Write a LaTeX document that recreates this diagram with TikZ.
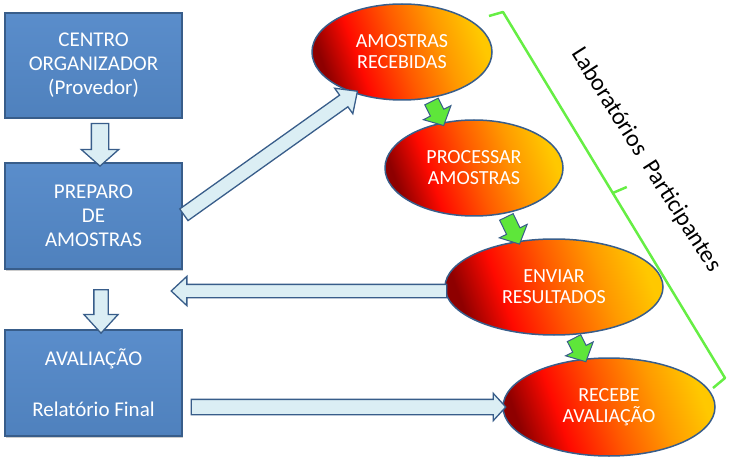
\documentclass[tikz,border=0pt]{standalone}
\usepackage{fontspec}
\setmainfont{Carlito}
\usetikzlibrary{shapes.geometric,shapes.arrows,calc,shadows}
\definecolor{boxfill}{HTML}{4F81BD}
\definecolor{boxtop}{HTML}{5A8DCB}
\definecolor{boxline}{HTML}{385D8A}
\definecolor{palefill}{HTML}{DBEEF4}
\definecolor{labdark}{HTML}{8E0000}
\definecolor{labred}{HTML}{FF0A00}
\definecolor{labmid}{HTML}{FF5A00}
\definecolor{laborange}{HTML}{FF9A00}
\definecolor{labyellow}{HTML}{FFC800}
\definecolor{greenfill}{HTML}{5EE63A}
\definecolor{greenline}{HTML}{66EE44}
\pgfdeclarehorizontalshading{labshade}{100bp}{color(0bp)=(labdark); color(25bp)=(labdark);
  color(36bp)=(labred); color(50bp)=(labmid); color(63bp)=(laborange); color(75bp)=(labyellow);
  color(100bp)=(labyellow)}
\tikzset{
  box/.style={rectangle, draw=boxline, line width=1.5pt, top color=boxtop, bottom color=boxfill,
    minimum width=177pt, minimum height=105pt, text=white, align=center,
    font=\fontsize{21}{24}\selectfont, drop shadow={shadow xshift=1pt, shadow yshift=-1.5pt, opacity=.4}},
  lab/.style={ellipse, draw=boxline, line width=1.5pt, inner sep=0pt, text=white, align=center,
    font=\fontsize{20}{21}\selectfont, shading=labshade, shading angle=20},
  blockarr/.style={single arrow, inner sep=0pt, outer sep=0pt, minimum width=0pt, text depth=0pt,
    line width=1.3pt, draw=boxline},
  pale/.style={blockarr, fill=palefill},
  green/.style={blockarr, fill=greenfill, line width=1pt, text height=14pt,
    single arrow head extend=8pt, single arrow tip angle=94}
}
\newcommand{\blockarr}[3]{%
  \path let \p1=($(#3)-(#2)$), \n1={veclen(\x1,\y1)}, \n2={atan2(\y1,\x1)} in
    node[#1, minimum height=\n1, rotate=\n2] at ($(#2)!0.5!(#3)$) {};}
\begin{document}
\begin{tikzpicture}[x=1pt, y=-1pt]
\useasboundingbox (0,0) rectangle (744,457);
\node[box] (box0) at (93.5,65.5) {CENTRO\\ORGANIZADOR\\(Provedor)};
\node[box, minimum height=106pt] (box1) at (93.5,216) {PREPARO\\DE\\AMOSTRAS};
\node[box, minimum height=106pt] (box2) at (93.5,383) {AVALIAÇÃO\\[27pt]Relatório Final};
\node[lab, minimum width=180pt, minimum height=96pt] (lab0) at (402,52) {AMOSTRAS\\RECEBIDAS};
\node[lab, minimum width=178pt, minimum height=96pt] (lab1) at (474,168) {PROCESSAR\\AMOSTRAS};
\node[lab, minimum width=218pt, minimum height=96pt] (lab2) at (554,287) {ENVIAR\\RESULTADOS};
\node[lab, minimum width=212pt, minimum height=98pt] (lab3) at (609,407) {RECEBE\\AVALIAÇÃO};
\coordinate (p0) at ($(box0.south)+(6.5,1)$);
\coordinate (p1) at ($(box1.north)+(6.5,0)$);
\coordinate (p2) at ($(box1.south)+(7.5,16)$);
\coordinate (p3) at ($(box2.north)+(7.5,0)$);
\coordinate (p4) at ($(box1.east)+(-2,1)$);
\coordinate (p7) at ($(lab2.west)+(6,4)$);
\coordinate (p5) at ($(p7 -| box1.east)+(-8,0)$);
\coordinate (p6) at ($(box2.east)+(5,24)$);
\blockarr{pale, text height=16pt, single arrow head extend=10pt, single arrow tip angle=97}{p0}{p1}
\blockarr{pale, text height=13pt, single arrow head extend=10pt, single arrow tip angle=85}{p2}{p3}
\blockarr{pale, text height=13pt, single arrow head extend=8.5pt, single arrow tip angle=86}{p4}{lab0.-139}
\blockarr{pale, text height=12pt, single arrow head extend=8pt, single arrow tip angle=86}{p7}{p5}
\blockarr{pale, text height=14pt, single arrow head extend=6pt, single arrow tip angle=95}{p6}{lab3.west}
\blockarr{green}{lab0.-59}{lab1.125}
\blockarr{green}{lab1.-56}{lab2.128}
\blockarr{green}{lab2.-69}{lab3.117}
\coordinate (br0) at (489,16);
\coordinate (br1) at (503,12);
\coordinate (br2) at (725,378);
\coordinate (br3) at (713,388);
\coordinate (br4) at ($(br1)!0.4945!(br2)$);
\draw[greenline, line width=2.5pt, line join=round] (br0) -- (br1) -- (br2) -- (br3);
\draw[greenline, line width=2.5pt] (br4) -- ++(14,-6);
\node[rotate=-57.6, font=\fontsize{24}{26}\selectfont] (txt0) at (646,160) {Laboratórios~~Participantes};
\end{tikzpicture}
\end{document}
